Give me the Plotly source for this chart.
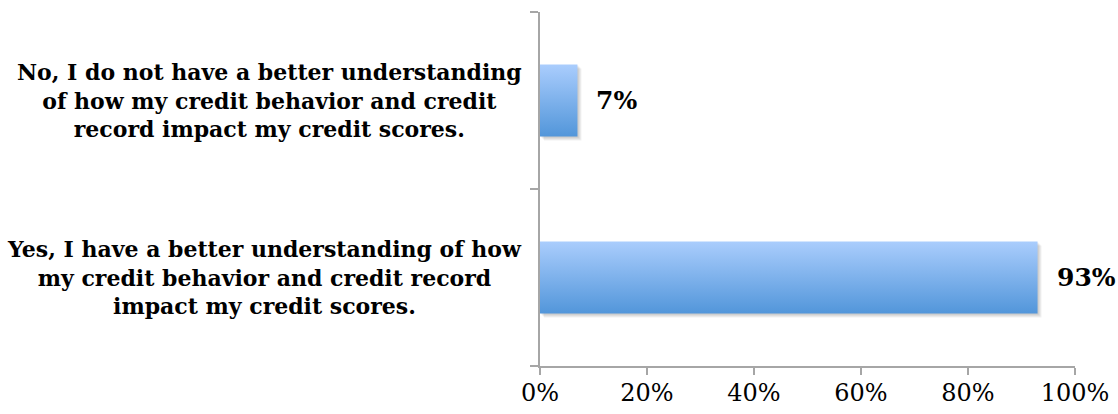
import plotly.graph_objects as go

# Survey responses (share of respondents, %)
categories = [
    "Yes, I have a better understanding of how<br>my credit behavior and credit record<br>impact my credit scores.",
    "No, I do not have a better understanding<br>of how my credit behavior and credit<br>record impact my credit scores.",
]
values = [93, 7]
value_labels = ["93%", "7%"]
x_tick_vals = [0, 20, 40, 60, 80, 100]
x_tick_text = ["0%", "20%", "40%", "60%", "80%", "100%"]

W, H = 1118, 414
M_L, M_R, M_T, M_B = 540, 43, 12, 48
BAR_HALF = 0.2034            # half bar thickness in band units
TOP_COLOR = "#aacdfd"
BOTTOM_COLOR = "#5296da"

px_x = (W - M_L - M_R) / 100.0      # pixels per percent
px_y = (H - M_T - M_B) / 2.0        # pixels per band

fig = go.Figure()

for i, (cat, v, lab) in enumerate(zip(categories, values, value_labels)):
    yc = i + 0.5
    y0, y1 = yc - BAR_HALF, yc + BAR_HALF
    # soft drop shadow, built up from a few faint offset layers
    for k in range(1, 5):
        dx = k / px_x
        dy = k / px_y
        fig.add_trace(go.Scatter(
            x=[dx, v + dx, v + dx, dx, dx],
            y=[y0 - dy, y0 - dy, y1 - dy, y1 - dy, y0 - dy],
            fill="toself", mode="lines", line=dict(width=0),
            fillcolor="rgba(0,0,0,0.055)", hoverinfo="skip", showlegend=False,
        ))
    # bar with vertical gradient
    fig.add_trace(go.Scatter(
        x=[0, v, v, 0, 0],
        y=[y0, y0, y1, y1, y0],
        fill="toself", mode="lines", line=dict(width=0),
        fillgradient=dict(type="vertical",
                          colorscale=[[0, BOTTOM_COLOR], [1, TOP_COLOR]]),
        name=lab, hoverinfo="skip", showlegend=False,
    ))
    fig.add_annotation(x=v, y=yc, xref="x", yref="y", text="<b>%s</b>" % lab,
                       showarrow=False, xanchor="left", yanchor="middle", xshift=17,
                       font=dict(family="DejaVu Serif", size=25, color="#000000"))
    fig.add_annotation(x=0, y=yc, xref="paper", yref="y", text="<b>%s</b>" % cat,
                       showarrow=False, xanchor="right", yanchor="middle", xshift=-16,
                       align="center",
                       font=dict(family="DejaVu Serif", size=22, color="#000000"))

axis_color = "#a6a6a6"
fig.update_xaxes(range=[0, 100], tickvals=x_tick_vals, ticktext=x_tick_text,
                 showline=True, linecolor=axis_color, linewidth=2,
                 ticks="outside", ticklen=7, tickwidth=2, tickcolor=axis_color,
                 ticklabelstandoff=-3, automargin=False,
                 showgrid=False, zeroline=False, fixedrange=True,
                 tickfont=dict(family="DejaVu Serif", size=24, color="#000000"))
fig.update_yaxes(range=[0, 2], tickvals=[0, 1, 2], showticklabels=False,
                 showline=True, linecolor=axis_color, linewidth=2,
                 ticks="outside", ticklen=8, tickwidth=2, tickcolor=axis_color,
                 automargin=False,
                 showgrid=False, zeroline=False, fixedrange=True)

fig.update_layout(width=W, height=H,
                  margin=dict(l=M_L, r=M_R, t=M_T, b=M_B, pad=0, autoexpand=False),
                  plot_bgcolor="white", paper_bgcolor="white",
                  showlegend=False)

fig.write_html("out.html")
